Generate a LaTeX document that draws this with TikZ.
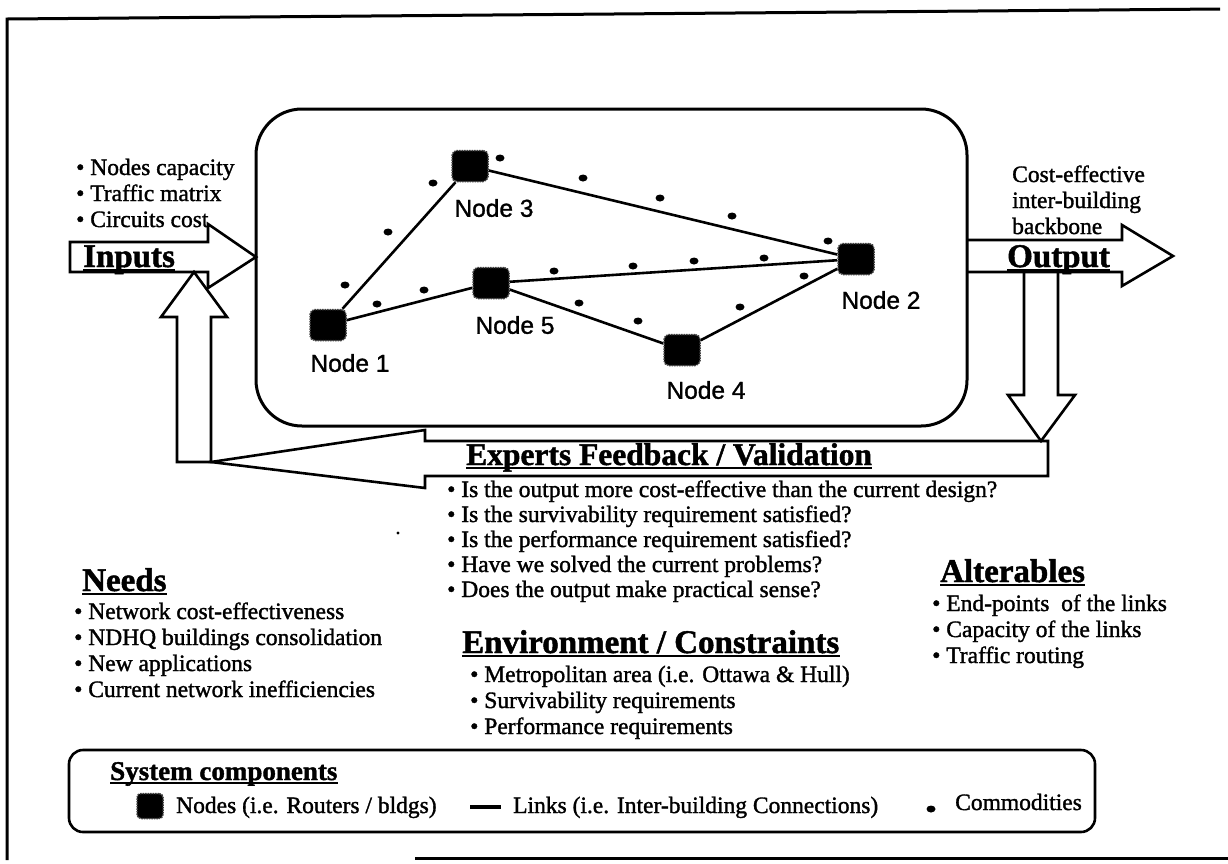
\documentclass[tikz,border=0pt]{standalone}
\usepackage{fontspec}
\setmainfont{Liberation Serif}[FakeBold=1.4]
\newfontfamily\nodefont{Liberation Sans}[FakeBold=1.2]
\usetikzlibrary{shapes.geometric}
\begin{document}
\begin{tikzpicture}[x=1pt,y=-1pt,
  frame/.style={line width=3pt},
  blockarrow/.style={line width=2.6pt, line join=miter},
  link/.style={line width=2.6pt},
  txt/.style={inner sep=0pt, anchor=base west, font=\fontsize{23.5}{26}\selectfont},
  head/.style={inner sep=0pt, anchor=base west, font=\fontsize{33}{36}\selectfont\bfseries},
  subhead/.style={inner sep=0pt, anchor=base west, font=\fontsize{27}{30}\selectfont\bfseries},
  nodelabel/.style={inner sep=0pt, font=\nodefont\fontsize{24.5}{26}\selectfont},
  router/.style={fill=black, draw=black!75, densely dotted, line width=1.5pt,
    minimum width=36pt, minimum height=31pt, rounded corners=5pt, inner sep=0pt},
  commodity/.style={ellipse, fill=black, minimum width=9pt, minimum height=7pt, inner sep=0pt}
]
\useasboundingbox (0,0) rectangle (1228,863);
\fill[white] (0,0) rectangle (1228,863);

% outer frame (open on the right)
\draw[frame] (1220,9) -- (7,19) -- (7,860);
\draw[frame] (415,858) -- (1228,858);

% network area
\draw[line width=3pt, rounded corners=46pt] (256,109) rectangle (967,426);

% routers
\node[router] (n1) at (328,325) {};
\node[router] (n3) at (470,166) {};
\node[router] (n5) at (491,283) {};
\node[router] (n4) at (682,350) {};
\node[router] (n2) at (856,259) {};

% links
\draw[link] (n1) -- (n3);
\draw[link] (n1) -- (n5);
\draw[link] (n3) -- (n2);
\draw[link] (n5) -- (n2);
\draw[link] (n5) -- (n4);
\draw[link] (n4) -- (n2);

% router labels
\node[nodelabel] (l1) at ([shift={(22,38)}]n1.center) {Node 1};
\node[nodelabel] (l3) at ([shift={(24,42)}]n3.center) {Node 3};
\node[nodelabel] (l5) at ([shift={(24,42)}]n5.center) {Node 5};
\node[nodelabel] (l4) at ([shift={(24,40)}]n4.center) {Node 4};
\node[nodelabel] (l2) at ([shift={(25,41)}]n2.center) {Node 2};

% commodities
\node[commodity] (c1) at (388,232) {};
\node[commodity] (c2) at (433,183) {};
\node[commodity] (c3) at (500,158) {};
\node[commodity] (c4) at (583,178) {};
\node[commodity] (c5) at (660,198) {};
\node[commodity] (c6) at (732,216) {};
\node[commodity] (c7) at (828,241) {};
\node[commodity] (c8) at (345,285) {};
\node[commodity] (c9) at (377,304) {};
\node[commodity] (c10) at (424,290) {};
\node[commodity] (c11) at (554,271) {};
\node[commodity] (c12) at (633,266) {};
\node[commodity] (c13) at (694,261) {};
\node[commodity] (c14) at (764,258) {};
\node[commodity] (c15) at (804,276) {};
\node[commodity] (c16) at (579,303) {};
\node[commodity] (c17) at (638,321) {};
\node[commodity] (c18) at (740,307) {};

% inputs arrow
\draw[blockarrow] (70,242) -- (208,242) -- (208,224) -- (256,257) -- (208,288) -- (208,272) -- (70,272) -- cycle;
% output arrow
\draw[blockarrow] (967,240) -- (1122,240) -- (1122,225) -- (1173,256) -- (1122,286) -- (1122,272) -- (967,272);
% output to feedback
\draw[blockarrow] (1024,272) -- (1024,395) -- (1008,395) -- (1041,441) -- (1075,395) -- (1058,395) -- (1058,272);
% feedback arrow
\draw[blockarrow] (211,462) -- (425,430) -- (425,441) -- (1048,441) -- (1048,476) -- (425,476) -- (425,488) -- cycle;
% feedback up into inputs
\draw[blockarrow] (211,462) -- (177,462) -- (177,317) -- (161,317) -- (194,272) -- (227,317) -- (211,317) -- cycle;

% inputs
\node[txt] (i1) at (76,175) {• Nodes capacity};
\node[txt] (i2) at (76,201) {• Traffic matrix};
\node[txt] (i3) at (76,227) {• Circuits cost};
\node[head] (hin) at (83,267) {Inputs};
\draw[line width=1.8pt] ([yshift=-3pt]hin.base west) -- ([yshift=-3pt]hin.base east);

% output
\node[txt] (o1) at (1012,182) {Cost-effective};
\node[txt] (o2) at (1012,208) {inter-building};
\node[txt] (o3) at (1012,234) {backbone};
\node[head] (hout) at (1007,267) {Output};
\draw[line width=1.8pt] ([yshift=-3pt]hout.base west) -- ([yshift=-3pt]hout.base east);

% feedback / validation
\node[head, font=\fontsize{31.5}{34}\selectfont\bfseries] (hfb) at (466,465) {Experts Feedback / Validation};
\draw[line width=1.8pt] ([yshift=-3pt]hfb.base west) -- ([yshift=-3pt]hfb.base east);
\node[txt] (q1) at (447,497) {• Is the output more cost-effective than the current design?};
\node[txt] (q2) at (447,522) {• Is the survivability requirement satisfied?};
\node[txt] (q3) at (447,547) {• Is the performance requirement satisfied?};
\node[txt] (q4) at (447,572) {• Have we solved the current problems?};
\node[txt] (q5) at (447,597) {• Does the output make practical sense?};
\fill (398,533) circle (1.6pt);

% needs
\node[head] (hneeds) at (82,591) {Needs};
\draw[line width=1.8pt] ([yshift=-3pt]hneeds.base west) -- ([yshift=-3pt]hneeds.base east);
\node[txt] (nd1) at (74,619) {• Network cost-effectiveness};
\node[txt] (nd2) at (74,645) {• NDHQ buildings consolidation};
\node[txt] (nd3) at (74,671) {• New applications};
\node[txt] (nd4) at (74,697) {• Current network inefficiencies};

% environment / constraints
\node[head] (henv) at (462,653) {Environment / Constraints};
\draw[line width=1.8pt] ([yshift=-3pt]henv.base west) -- ([yshift=-3pt]henv.base east);
\node[txt] (e1) at (470,682) {• Metropolitan area (i.e. Ottawa \& Hull)};
\node[txt] (e2) at (470,708) {• Survivability requirements};
\node[txt] (e3) at (470,734) {• Performance requirements};

% alterables
\node[head] (halt) at (940,582) {Alterables};
\draw[line width=1.8pt] ([yshift=-3pt]halt.base west) -- ([yshift=-3pt]halt.base east);
\node[txt] (a1) at (932,611) {• End-points\ \ of the links};
\node[txt] (a2) at (932,637) {• Capacity of the links};
\node[txt] (a3) at (932,663) {• Traffic routing};

% legend
\draw[line width=2.6pt, rounded corners=14pt] (69,750) rectangle (1095,832);
\node[subhead] (hsys) at (110,780) {System components};
\draw[line width=1.5pt] ([yshift=-3pt]hsys.base west) -- ([yshift=-3pt]hsys.base east);
\node[router, minimum width=26pt, minimum height=25pt, rounded corners=4pt] (lgnode) at (150,806) {};
\node[txt] (lgnodetxt) at (176,813) {Nodes (i.e. Routers / bldgs)};
\coordinate (lglinea) at (470,807);
\coordinate (lglineb) at (501,807);
\draw[line width=4pt] (lglinea) -- (lglineb);
\node[txt] (lglinktxt) at (513,813) {Links (i.e. Inter-building Connections)};
\node[commodity] (lgdot) at (931,809) {};
\node[txt] (lgcomtxt) at (955,810) {Commodities};
\end{tikzpicture}
\end{document}
